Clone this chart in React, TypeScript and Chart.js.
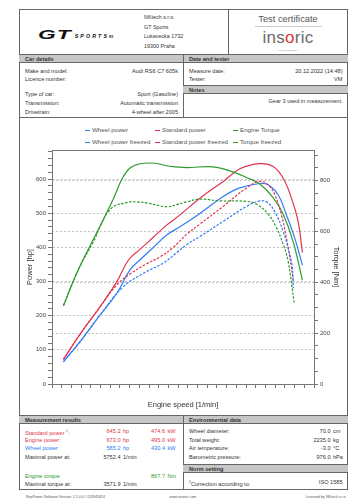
import React, { useEffect, useRef } from "react";
import { Chart, registerables } from "chart.js";
Chart.register(...registerables);

const FONT = '"Liberation Sans", Arial, sans-serif';
const BLUE = "#2f7cf6";
const RED = "#e2344f";
const GREEN = "#2f9a2f";
const DARK = "#333";

// Engine speed [1/min] and values
const engineTorqueRpm = [1656, 1965, 2412, 2680, 2860, 3031, 3237, 3546, 3787, 3993, 4200, 4748, 5093, 5437, 5711, 5986, 6192, 6399, 6591];
const engineTorqueNm = [308, 450, 620, 725, 804, 849, 866, 868, 858, 854, 851, 854, 838, 812, 786, 733, 668, 560, 408];

const torqueFreezedRpm = [1656, 1965, 2275, 2618, 2996, 3168, 3375, 3787, 3993, 4200, 4474, 4887, 5437, 5643, 5883, 6055, 6192, 6295, 6419];
const torqueFreezedNm = [308, 450, 560, 686, 715, 716, 712, 697, 705, 716, 727, 720, 718, 707, 668, 615, 550, 484, 321];

const standardPowerRpm = [1656, 2000, 2412, 2756, 3000, 3237, 3500, 3787, 4062, 4474, 4955, 5299, 5711, 5986, 6192, 6364, 6501, 6591];
const standardPowerHp = [72, 146, 226, 299, 363, 394, 428, 465, 495, 544, 593, 630, 645, 637, 603, 544, 476, 385];

const wheelPowerRpm = [1656, 2000, 2412, 2756, 3031, 3272, 3500, 3787, 4062, 4474, 4955, 5299, 5711, 5883, 6089, 6261, 6433, 6591];
const wheelPowerHp = [65, 124, 202, 265, 334, 368, 398, 436, 460, 499, 549, 574, 587, 583, 554, 495, 427, 347];

const standardFreezedRpm = [1656, 2000, 2412, 2756, 3031, 3375, 3649, 3924, 4200, 4474, 4955, 5437, 5711, 5883, 6021, 6158, 6261, 6360, 6400];
const standardFreezedHp = [72, 146, 226, 290, 322, 352, 372, 400, 438, 468, 520, 574, 593, 583, 554, 495, 427, 345, 304];

const wheelFreezedRpm = [1656, 2000, 2412, 2893, 3306, 3718, 4000, 4200, 4474, 4955, 5437, 5711, 5883, 6055, 6192, 6295, 6380, 6402];
const wheelFreezedHp = [65, 124, 202, 285, 324, 354, 385, 408, 432, 476, 520, 536, 530, 495, 447, 398, 344, 280];

const legendItems = [
  { label: "Wheel power", color: BLUE, dashed: false },
  { label: "Standard power", color: RED, dashed: false },
  { label: "Engine Torque", color: GREEN, dashed: false },
  { label: "Wheel power freezed", color: BLUE, dashed: true },
  { label: "Standard power freezed", color: RED, dashed: true },
  { label: "Torque freezed", color: GREEN, dashed: true },
];

const pts = (xs: number[], ys: number[]) => xs.map((x, i) => ({ x, y: ys[i] }));

const framePlugin = {
  id: "frame",
  beforeDatasetsDraw(chart: any) {
    const { ctx, chartArea: a } = chart;
    ctx.save();
    ctx.strokeStyle = "#777";
    ctx.lineWidth = 1;
    ctx.strokeRect(Math.round(a.left) + 0.5, Math.round(a.top) + 0.5, Math.round(a.right - a.left), Math.round(a.bottom - a.top));
    ctx.restore();
  },
};

function DynoChart() {
  const ref = useRef<HTMLCanvasElement>(null);
  useEffect(() => {
    const gridCol = "#c4c4c4";
    const tickFont = { family: FONT, size: 6 };
    const titleFont = { family: FONT, size: 7.5 };
    const ds = (label: string, xs: number[], ys: number[], color: string, dashed: boolean, axis: string) => ({
      label,
      data: pts(xs, ys),
      borderColor: color,
      backgroundColor: color,
      borderWidth: 1.2,
      borderDash: dashed ? [2.5, 1.5] : [],
      pointRadius: 0,
      tension: 0.4,
      yAxisID: axis,
    });
    const chart = new Chart(ref.current!, {
      type: "line",
      data: {
        datasets: [
          ds("Torque freezed", torqueFreezedRpm, torqueFreezedNm, GREEN, true, "y1"),
          ds("Wheel power freezed", wheelFreezedRpm, wheelFreezedHp, BLUE, true, "y"),
          ds("Standard power freezed", standardFreezedRpm, standardFreezedHp, RED, true, "y"),
          ds("Engine Torque", engineTorqueRpm, engineTorqueNm, GREEN, false, "y1"),
          ds("Wheel power", wheelPowerRpm, wheelPowerHp, BLUE, false, "y"),
          ds("Standard power", standardPowerRpm, standardPowerHp, RED, false, "y"),
        ],
      },
      options: {
        animation: false,
        responsive: false,
        devicePixelRatio: 1,
        layout: { padding: { top: 6, left: 0, right: 0, bottom: 0 } },
        plugins: { legend: { display: false }, tooltip: { enabled: false } },
        scales: {
          x: {
            type: "linear",
            min: 1420,
            max: 6830,
            afterFit: (s: any) => { s.height = 28; },
            ticks: {
              stepSize: 200,
              autoSkip: false,
              maxRotation: 0,
              includeBounds: false,
              padding: 2,
              font: tickFont,
              color: "#444",
              callback: (v: any) => (Number(v) % 1000 === 0 ? Number(v).toLocaleString("en-US") : ""),
            },
            grid: {
              color: (c: any) => (c.tick && c.tick.value % 1000 === 0 ? gridCol : "transparent"),
              tickColor: "#777",
              tickLength: 4,
              lineWidth: 1,
            },
            border: { color: "#777", dash: [2, 2] },
            title: { display: true, text: "Engine speed [1/min]", font: titleFont, color: DARK, padding: { top: 0, bottom: 3 } },
          },
          y: {
            type: "linear",
            position: "left",
            min: 0,
            max: 685,
            afterFit: (s: any) => { s.width = 32; },
            ticks: {
              stepSize: 20,
              autoSkip: false,
              includeBounds: false,
              padding: 2,
              font: tickFont,
              color: "#444",
              callback: (v: any) => (Number(v) % 100 === 0 ? String(v) : ""),
            },
            grid: {
              color: (c: any) => (c.tick && c.tick.value % 100 === 0 && c.tick.value > 0 ? gridCol : "transparent"),
              tickColor: "#777",
              tickLength: 4,
            },
            border: { color: "#777", dash: [2, 2] },
            title: { display: true, text: "Power [hp]", font: titleFont, color: DARK, padding: { top: 5, bottom: 0 } },
          },
          y1: {
            type: "linear",
            position: "right",
            min: 0,
            max: 920,
            afterFit: (s: any) => { s.width = 32; },
            ticks: {
              stepSize: 50,
              autoSkip: false,
              includeBounds: false,
              padding: 2,
              font: tickFont,
              color: "#444",
              callback: (v: any) => (Number(v) % 200 === 0 ? String(v) : ""),
            },
            grid: {
              drawOnChartArea: true,
              color: (c: any) => (c.tick && c.tick.value % 200 === 0 && c.tick.value > 0 ? gridCol : "transparent"),
              tickColor: "#777",
              tickLength: 4,
            },
            border: { color: "#777", dash: [2, 2] },
            title: { display: true, text: "Torque [Nm]", font: titleFont, color: DARK, padding: { top: 5, bottom: 0 } },
          },
        },
      },
      plugins: [framePlugin],
    });
    return () => chart.destroy();
  }, []);
  return (
    <canvas
      ref={ref}
      width={326}
      height={268}
      style={{ position: "absolute", left: 20, top: 144, width: 326, height: 268 }}
    />
  );
}

type TP = { x?: number; r?: number; c?: number; y: number; s?: number; color?: string; bold?: boolean; children: any };
function T({ x, r, c, y, s = 5.6, color = DARK, bold, children }: TP) {
  const st: any = {
    position: "absolute",
    top: y - 5,
    height: 10,
    lineHeight: "10px",
    fontSize: s,
    fontFamily: FONT,
    color,
    fontWeight: bold ? 700 : 400,
    whiteSpace: "nowrap",
  };
  if (x !== undefined) st.left = x;
  if (r !== undefined) { st.right = 360 - r; st.textAlign = "right"; }
  if (c !== undefined) { st.left = c - 100; st.width = 200; st.textAlign = "center"; }
  return <div style={st}>{children}</div>;
}

const B = "#666";
function Box({ x, y, w, h, bg, bt, bb, bl, br }: any) {
  return (
    <div
      style={{
        position: "absolute",
        left: x,
        top: y,
        width: w,
        height: h,
        background: bg || "transparent",
        borderTop: bt ? `1px solid ${B}` : undefined,
        borderBottom: bb ? `1px solid ${B}` : undefined,
        borderLeft: bl ? `1px solid ${B}` : undefined,
        borderRight: br ? `1px solid ${B}` : undefined,
        boxSizing: "border-box",
      }}
    />
  );
}

function Legend() {
  return (
    <>
      {legendItems.map((it, i) => {
        const col = i % 3;
        const row = Math.floor(i / 3);
        const x = [85, 155, 233][col];
        const y = row === 0 ? 130 : 142;
        return (
          <React.Fragment key={it.label}>
            <div
              style={{
                position: "absolute",
                left: x,
                top: y - 0.5,
                width: 5,
                height: 0,
                borderTop: `1.3px ${it.dashed ? "dashed" : "solid"} ${it.color}`,
              }}
            />
            <T x={x + 7} y={y} s={6.2} color="#555">{it.label}</T>
          </React.Fragment>
        );
      })}
    </>
  );
}

export default function App() {
  return (
    <div style={{ position: "fixed", left: 0, top: 0, width: 360, height: 504, background: "#fff", overflow: "hidden" }}>
      {/* outer frame */}
      <Box x={19} y={9} w={329} h={481} bt bb bl br />
      {/* header */}
      <Box x={228} y={9} w={1} h={45} bl />
      <div style={{ position: "absolute", left: 38, top: 25, fontFamily: FONT, fontStyle: "italic", fontWeight: 900, color: "#111", whiteSpace: "nowrap" }}>
        <span style={{ fontSize: 12, letterSpacing: 0.5, transform: "scaleX(1.9)", display: "inline-block", transformOrigin: "left" }}>GT</span>
        <span style={{ fontSize: 5.2, letterSpacing: 2.2, marginLeft: 19, position: "relative", top: -1 }}>SPORTS</span>
        <span style={{ fontSize: 3, marginLeft: 0, position: "relative", top: -1 }}>RX</span>
      </div>
      <T x={144} y={17} s={5.4}>NKtech s.r.o.</T>
      <T x={144} y={27} s={5.4}>GT Sports</T>
      <T x={144} y={36} s={5.4}>Lukavecka 1732</T>
      <T x={144} y={46} s={5.4}>19300 Praha</T>
      <T c={288} y={19} s={9.3} color="#555">Test certificate</T>
      <div style={{ position: "absolute", left: 255, top: 26, width: 67, height: 0, borderTop: "1px solid #ccc" }} />
      <div style={{ position: "absolute", left: 238, width: 100, top: 28, textAlign: "center", fontFamily: FONT, fontSize: 17, lineHeight: "20px", color: "#6a6a6a", letterSpacing: 0.3 }}>
        ins<span style={{ color: "#e0323c" }}>o</span>ric
      </div>
      <T c={288} y={50} s={2} color="#777">nejen pro velké firmy</T>

      {/* car details bands */}
      <Box x={19} y={54} w={329} h={9} bg="#c6c6c6" bt bb />
      <Box x={183} y={54} w={1} h={64} bl />
      <T x={25} y={58.5} s={5.6} bold>Car details</T>
      <T x={189} y={58.5} s={5.6} bold>Date and tester</T>
      <T x={25} y={70.7}>Make and model:</T>
      <T r={178} y={70.7}>Audi RS6 C7 605k</T>
      <T x={25} y={79}>Licence number:</T>
      <T x={25} y={94.3}>Type of car:</T>
      <T r={178} y={94.3}>Sport (Gasoline)</T>
      <T x={25} y={103}>Transmission:</T>
      <T r={178} y={103}>Automatic transmission</T>
      <T x={25} y={111.7}>Drivetrain:</T>
      <T r={178} y={111.7}>4-wheel after 2005</T>
      <T x={189} y={70.7}>Measure date:</T>
      <T r={342.5} y={70.7}>20.12.2022 (14:48)</T>
      <T x={189} y={79}>Tester:</T>
      <T r={342.5} y={79}>VM</T>
      <Box x={183} y={85} w={165} h={9} bg="#c6c6c6" bt bb />
      <T x={189} y={89.5} bold>Notes</T>
      <T r={342.5} y={101}>Gear 3 used in measurement.</T>
      <Box x={19} y={117} w={329} h={1} bt />

      {/* chart */}
      <Legend />
      <DynoChart />

      {/* measurement results */}
      <Box x={19} y={415} w={329} h={9} bg="#c6c6c6" bt bb />
      <Box x={183} y={415} w={1} h={75} bl />
      <T x={25} y={419.5} bold>Measurement results</T>
      <T x={189} y={419.5} bold>Environmental data</T>

      <T x={25} y={431} color={RED}>Standard power <sup style={{ fontSize: 3.5 }}>1</sup>:</T>
      <T r={120.5} y={431} color={RED}>645.2</T>
      <T x={123} y={431} color={RED}>hp</T>
      <T r={165} y={431} color={RED}>474.6</T>
      <T x={167.5} y={431} color={RED}>kW</T>

      <T x={25} y={439.7} color={RED}>Engine power:</T>
      <T r={120.5} y={439.7} color={RED}>673.0</T>
      <T x={123} y={439.7} color={RED}>hp</T>
      <T r={165} y={439.7} color={RED}>495.0</T>
      <T x={167.5} y={439.7} color={RED}>kW</T>

      <T x={25} y={448.3} color={BLUE}>Wheel power:</T>
      <T r={120.5} y={448.3} color={BLUE}>585.2</T>
      <T x={123} y={448.3} color={BLUE}>hp</T>
      <T r={165} y={448.3} color={BLUE}>430.4</T>
      <T x={167.5} y={448.3} color={BLUE}>kW</T>

      <T x={25} y={457.3}>Maximal power at:</T>
      <T r={120.5} y={457.3}>5752.4</T>
      <T x={123} y={457.3}>1/min</T>

      <T x={25} y={476} color={GREEN}>Engine torque</T>
      <T r={165} y={476} color={GREEN}>867.7</T>
      <T x={167.5} y={476} color={GREEN}>Nm</T>

      <T x={25} y={484.3}>Maximal torque at:</T>
      <T r={120.5} y={484.3}>3571.9</T>
      <T x={123} y={484.3}>1/min</T>

      <T x={189} y={431}>Wheel diameter:</T>
      <T r={330.5} y={431}>70.0</T>
      <T x={333} y={431}>cm</T>
      <T x={189} y={439.7}>Total weight:</T>
      <T r={330.5} y={439.7}>2235.0</T>
      <T x={333} y={439.7}>kg</T>
      <T x={189} y={448.3}>Air temperature:</T>
      <T r={330.5} y={448.3}>-3.0</T>
      <T x={333} y={448.3}>°C</T>
      <T x={189} y={457.3}>Barometric pressure:</T>
      <T r={330.5} y={457.3}>976.0</T>
      <T x={333} y={457.3}>hPa</T>

      <Box x={183} y={464} w={165} h={9} bg="#c6c6c6" bt bb />
      <T x={189} y={468.8} bold>Norm setting</T>
      <T x={189} y={482.3}><sup style={{ fontSize: 3.5 }}>1</sup>Correction according to:</T>
      <T r={342.5} y={482.3}>ISO 1585</T>

      {/* footer */}
      <T x={26} y={496.5} s={3.6} color="#555">RepPower Software Version: 2.1.0.0 / 153945824</T>
      <T c={183} y={496.5} s={3.6} color="#555">www.insoric.com</T>
      <T r={346.5} y={496.5} s={3.6} color="#555">Licensed by NKtech s.r.o.</T>
    </div>
  );
}
